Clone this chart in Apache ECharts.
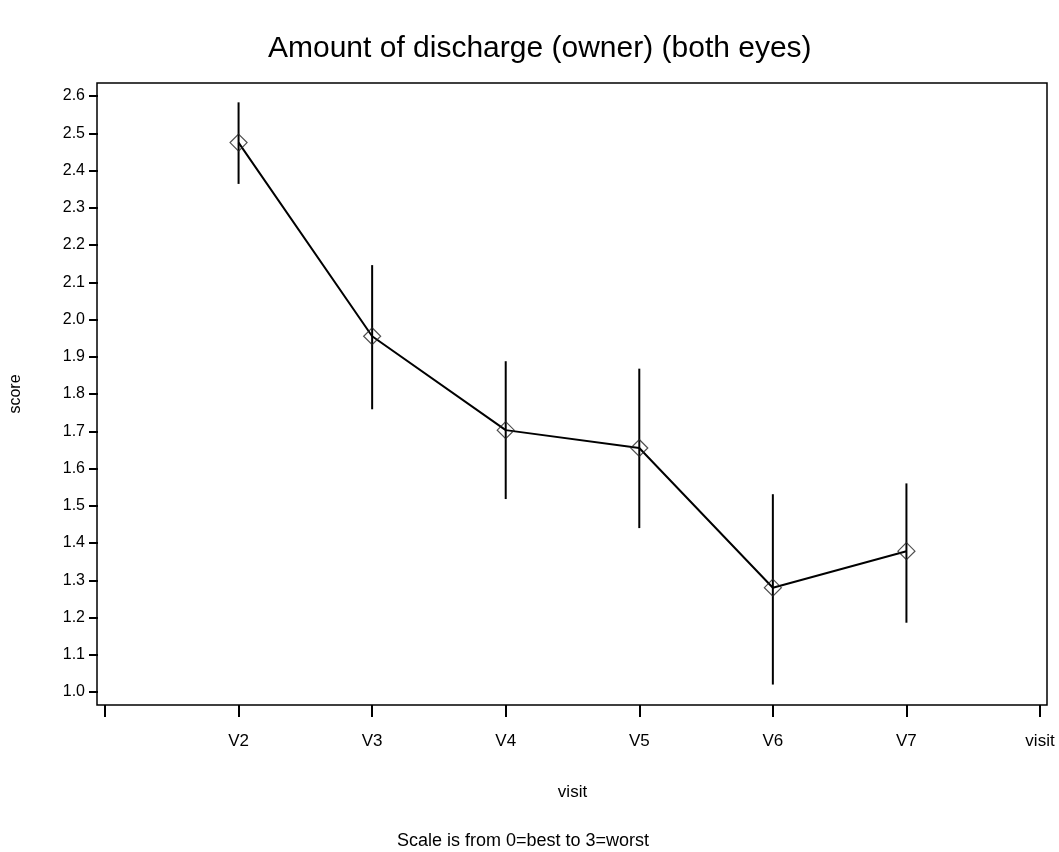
<!DOCTYPE html>
<html>
<head>
<meta charset="utf-8">
<script src="https://cdn.jsdelivr.net/npm/echarts@6/dist/echarts.min.js"></script>
<style>
html,body{margin:0;padding:0;background:#fff;}
#chart{width:1059px;height:852px;}
</style>
</head>
<body>
<div id="chart"></div>
<script>
// Data
var visits = ['V2', 'V3', 'V4', 'V5', 'V6', 'V7'];
var tickLabels = ['', 'V2', 'V3', 'V4', 'V5', 'V6', 'V7', 'visit'];
var means = [2.475, 1.955, 1.703, 1.655, 1.280, 1.378];
var lower = [2.364, 1.759, 1.518, 1.440, 1.020, 1.186];
var upper = [2.583, 2.146, 1.888, 1.868, 1.531, 1.560];

var FONT = '"Liberation Sans", Arial, sans-serif';

var meanData = visits.map(function (v, i) { return [i + 1, means[i]]; });
var errData = visits.map(function (v, i) { return [i + 1, lower[i], upper[i]]; });

var chart = echarts.init(document.getElementById('chart'), null, { renderer: 'canvas' });
chart.setOption({
  backgroundColor: '#fff',
  animation: false,
  title: {
    text: 'Amount of discharge (owner) (both eyes)',
    left: 263,
    top: 29,
    textStyle: { fontFamily: FONT, fontSize: 30, fontWeight: 'normal', color: '#000' }
  },
  graphic: [{
    type: 'text',
    left: 397,
    top: 832,
    style: { text: 'Scale is from 0=best to 3=worst', font: '18px ' + FONT, fill: '#000' }
  }],
  grid: [
    { left: 97, right: 12, top: 83, bottom: 147, show: true, borderColor: '#000', borderWidth: 1.5, backgroundColor: 'transparent' },
    { left: 105, right: 19, top: 96, bottom: 160 },
    { left: 97, right: 12, top: 96, bottom: 160 }
  ],
  xAxis: [
    { gridIndex: 0, type: 'value', show: false, min: 0, max: 1 },
    {
      gridIndex: 1, type: 'value', min: 0, max: 7, interval: 1, offset: 13,
      axisLine: { show: false },
      axisTick: { show: true, length: 12, lineStyle: { color: '#000', width: 2 } },
      splitLine: { show: false },
      axisLabel: {
        margin: 28, color: '#000', fontFamily: FONT, fontSize: 17,
        formatter: function (val) { return tickLabels[Math.round(val)] || ''; }
      },
      name: 'visit', nameLocation: 'middle', nameGap: 79,
      nameTextStyle: { fontFamily: FONT, fontSize: 17, color: '#000' }
    },
    { gridIndex: 2, type: 'value', show: false, min: 0, max: 1 }
  ],
  yAxis: [
    { gridIndex: 0, type: 'value', show: false, min: 0, max: 1 },
    { gridIndex: 1, type: 'value', show: false, min: 1.0, max: 2.6 },
    {
      gridIndex: 2, type: 'value', min: 1.0, max: 2.6, interval: 0.1,
      axisLine: { show: false },
      axisTick: { show: true, length: 9, lineStyle: { color: '#000', width: 2 } },
      splitLine: { show: false },
      axisLabel: {
        margin: 13, color: '#000', fontFamily: FONT, fontSize: 16,
        formatter: function (val) { return val.toFixed(1); }
      },
      name: 'score', nameLocation: 'middle', nameGap: 74, nameRotate: 90,
      nameTextStyle: { fontFamily: FONT, fontSize: 16, color: '#000' }
    }
  ],
  series: [
    {
      type: 'custom',
      xAxisIndex: 1, yAxisIndex: 1,
      data: errData,
      renderItem: function (params, api) {
        var x = api.value(0);
        var p1 = api.coord([x, api.value(1)]);
        var p2 = api.coord([x, api.value(2)]);
        return {
          type: 'line',
          shape: { x1: p1[0], y1: p1[1], x2: p2[0], y2: p2[1] },
          style: { stroke: '#000', lineWidth: 2 }
        };
      },
      z: 2
    },
    {
      type: 'line',
      xAxisIndex: 1, yAxisIndex: 1,
      data: meanData,
      showSymbol: false,
      lineStyle: { color: '#000', width: 2 },
      z: 3
    },
    {
      type: 'scatter',
      xAxisIndex: 1, yAxisIndex: 1,
      data: meanData,
      symbol: 'diamond',
      symbolSize: [17, 17],
      itemStyle: { color: 'rgba(0,0,0,0)', borderColor: '#222', borderWidth: 1.2 },
      z: 4
    }
  ]
});
</script>
</body>
</html>
